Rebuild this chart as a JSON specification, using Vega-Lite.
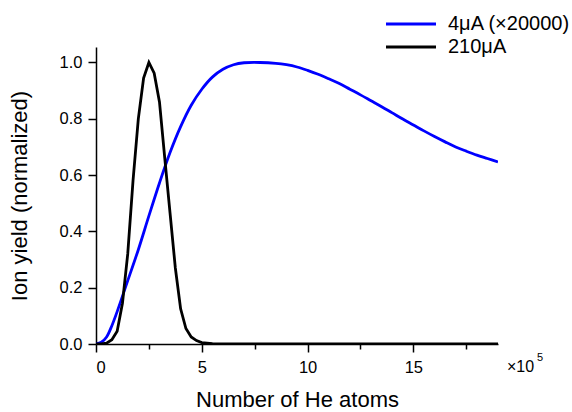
{
  "$schema": "https://vega.github.io/schema/vega-lite/v6.json",
  "autosize": {"type": "none"},
  "padding": {"left": 96, "top": 47, "right": 74, "bottom": 68},
  "width": 402,
  "height": 297,
  "config": {
    "view": {"stroke": null},
    "font": "Liberation Sans",
    "axis": {"labelFont": "Liberation Sans", "titleFont": "Liberation Sans", "titleFontWeight": "normal", "labelColor": "#000", "titleColor": "#000", "domainColor": "#000", "tickColor": "#000", "domainWidth": 1.5, "tickWidth": 1.5, "grid": false}
  },
  "datasets": {
    "curves": [
      {"s": "4μA (×20000)", "x": 0, "y": 0},
      {"s": "4μA (×20000)", "x": 0.25, "y": 0.006},
      {"s": "4μA (×20000)", "x": 0.5, "y": 0.025},
      {"s": "4μA (×20000)", "x": 0.75, "y": 0.065},
      {"s": "4μA (×20000)", "x": 1.0, "y": 0.115},
      {"s": "4μA (×20000)", "x": 1.5, "y": 0.225},
      {"s": "4μA (×20000)", "x": 2.0, "y": 0.335},
      {"s": "4μA (×20000)", "x": 2.5, "y": 0.455},
      {"s": "4μA (×20000)", "x": 3.0, "y": 0.572},
      {"s": "4μA (×20000)", "x": 3.5, "y": 0.68},
      {"s": "4μA (×20000)", "x": 4.0, "y": 0.772},
      {"s": "4μA (×20000)", "x": 4.5, "y": 0.848},
      {"s": "4μA (×20000)", "x": 5.0, "y": 0.905},
      {"s": "4μA (×20000)", "x": 5.5, "y": 0.948},
      {"s": "4μA (×20000)", "x": 6.0, "y": 0.976},
      {"s": "4μA (×20000)", "x": 6.5, "y": 0.992},
      {"s": "4μA (×20000)", "x": 7.0, "y": 0.999},
      {"s": "4μA (×20000)", "x": 7.75, "y": 1.0},
      {"s": "4μA (×20000)", "x": 8.5, "y": 0.997},
      {"s": "4μA (×20000)", "x": 9.0, "y": 0.992},
      {"s": "4μA (×20000)", "x": 9.5, "y": 0.984},
      {"s": "4μA (×20000)", "x": 10.0, "y": 0.972},
      {"s": "4μA (×20000)", "x": 10.5, "y": 0.958},
      {"s": "4μA (×20000)", "x": 11.0, "y": 0.942},
      {"s": "4μA (×20000)", "x": 11.5, "y": 0.925},
      {"s": "4μA (×20000)", "x": 12.0, "y": 0.905},
      {"s": "4μA (×20000)", "x": 12.5, "y": 0.885},
      {"s": "4μA (×20000)", "x": 13.0, "y": 0.864},
      {"s": "4μA (×20000)", "x": 13.5, "y": 0.843},
      {"s": "4μA (×20000)", "x": 14.0, "y": 0.821},
      {"s": "4μA (×20000)", "x": 14.5, "y": 0.799},
      {"s": "4μA (×20000)", "x": 15.0, "y": 0.778},
      {"s": "4μA (×20000)", "x": 15.5, "y": 0.757},
      {"s": "4μA (×20000)", "x": 16.0, "y": 0.737},
      {"s": "4μA (×20000)", "x": 16.5, "y": 0.718},
      {"s": "4μA (×20000)", "x": 17.0, "y": 0.70},
      {"s": "4μA (×20000)", "x": 17.5, "y": 0.685},
      {"s": "4μA (×20000)", "x": 18.0, "y": 0.671},
      {"s": "4μA (×20000)", "x": 18.5, "y": 0.659},
      {"s": "4μA (×20000)", "x": 19.0, "y": 0.647},
      {"s": "210μA", "x": 0, "y": 0},
      {"s": "210μA", "x": 0.25, "y": 0.0},
      {"s": "210μA", "x": 0.5, "y": 0.003},
      {"s": "210μA", "x": 0.75, "y": 0.015},
      {"s": "210μA", "x": 1.0, "y": 0.045},
      {"s": "210μA", "x": 1.25, "y": 0.145},
      {"s": "210μA", "x": 1.5, "y": 0.32},
      {"s": "210μA", "x": 1.75, "y": 0.58},
      {"s": "210μA", "x": 2.0, "y": 0.8},
      {"s": "210μA", "x": 2.25, "y": 0.945},
      {"s": "210μA", "x": 2.5, "y": 1.0},
      {"s": "210μA", "x": 2.75, "y": 0.962},
      {"s": "210μA", "x": 3.0, "y": 0.86},
      {"s": "210μA", "x": 3.25, "y": 0.66},
      {"s": "210μA", "x": 3.5, "y": 0.465},
      {"s": "210μA", "x": 3.75, "y": 0.27},
      {"s": "210μA", "x": 4.0, "y": 0.125},
      {"s": "210μA", "x": 4.25, "y": 0.055},
      {"s": "210μA", "x": 4.5, "y": 0.025},
      {"s": "210μA", "x": 4.75, "y": 0.012},
      {"s": "210μA", "x": 5.0, "y": 0.005},
      {"s": "210μA", "x": 5.5, "y": 0.001},
      {"s": "210μA", "x": 6.0, "y": 0},
      {"s": "210μA", "x": 10.0, "y": 0},
      {"s": "210μA", "x": 19.0, "y": 0}
    ],
    "exp": [
      {"x": 19, "y": 0, "t": "×10", "p": "5"}
    ]
  },
  "layer": [
    {
      "data": {"name": "curves"},
      "transform": [{"filter": "datum.s === '4μA (×20000)'"}],
      "mark": {"type": "line", "interpolate": "catmull-rom", "strokeWidth": 2.8, "clip": true},
      "encoding": {
        "x": {"field": "x", "type": "quantitative", "scale": {"domain": [0, 19], "nice": false, "zero": false},
          "axis": {"title": "Number of He atoms", "titleFontSize": 22, "titlePadding": 14, "labelFontSize": 16.5, "labelPadding": 7,
            "values": [0, 2.5, 5, 7.5, 10, 12.5, 15, 17.5],
            "labelExpr": "datum.value % 5 === 0 ? datum.label : ''",
            "tickSize": {"condition": {"test": "datum.value % 5 === 0", "value": 8}, "value": 5}}},
        "y": {"field": "y", "type": "quantitative", "scale": {"domain": [0, 1.055], "nice": false, "zero": false},
          "axis": {"title": "Ion yield (normalized)", "titleFontSize": 22, "titlePadding": 28, "labelFontSize": 16.5, "labelPadding": 6, "format": ".1f",
            "values": [0, 0.1, 0.2, 0.3, 0.4, 0.5, 0.6, 0.7, 0.8, 0.9, 1.0],
            "labelExpr": "round(datum.value * 10) % 2 === 0 ? datum.label : ''",
            "tickSize": {"condition": {"test": "round(datum.value * 10) % 2 === 0", "value": 8}, "value": 5}}},
        "color": {"field": "s", "type": "nominal",
          "scale": {"domain": ["4μA (×20000)", "210μA"], "range": ["#0000ff", "#000000"]},
          "legend": {"title": null, "orient": "none", "legendX": 305, "legendY": -33, "symbolType": "M-5,0L5,0", "symbolSize": 100, "symbolStrokeWidth": 3, "labelFontSize": 20, "labelFont": "Liberation Sans", "labelColor": "#000", "labelOffset": 27, "labelLimit": 300, "rowPadding": 3}}
      }
    },
    {
      "data": {"name": "curves"},
      "transform": [{"filter": "datum.s === '210μA'"}],
      "mark": {"type": "line", "interpolate": "linear", "strokeWidth": 2.8, "clip": true},
      "encoding": {
        "x": {"field": "x", "type": "quantitative"},
        "y": {"field": "y", "type": "quantitative"},
        "color": {"field": "s", "type": "nominal"}
      }
    },
    {
      "data": {"name": "exp"},
      "mark": {"type": "text", "align": "left", "baseline": "middle", "fontSize": 16, "dx": 9, "dy": 23, "color": "#000"},
      "encoding": {
        "x": {"field": "x", "type": "quantitative"},
        "y": {"field": "y", "type": "quantitative"},
        "text": {"field": "t"}
      }
    },
    {
      "data": {"name": "exp"},
      "mark": {"type": "text", "align": "left", "baseline": "middle", "fontSize": 11, "dx": 39, "dy": 14, "color": "#000"},
      "encoding": {
        "x": {"field": "x", "type": "quantitative"},
        "y": {"field": "y", "type": "quantitative"},
        "text": {"field": "p"}
      }
    }
  ]
}
